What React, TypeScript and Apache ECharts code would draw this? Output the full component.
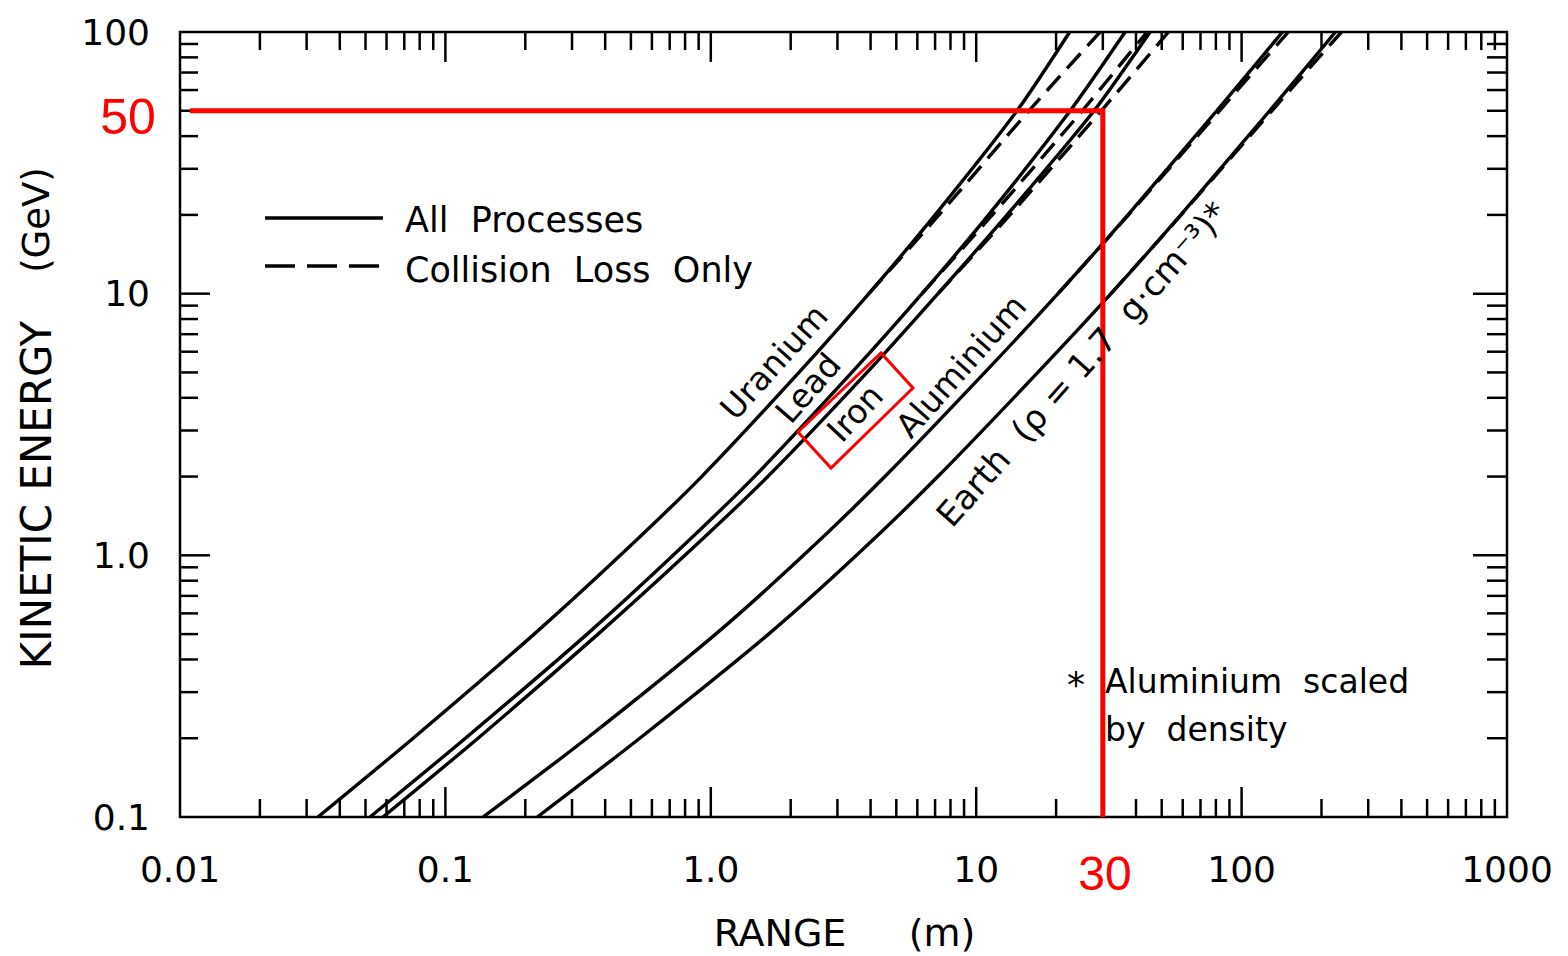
import React, { useEffect, useRef } from 'react';
import * as echarts from 'echarts';

// Kinetic energy (GeV) at which ranges were read
const energies = [0.1, 0.2, 0.5, 1, 2, 5, 10, 20, 50, 100];
// Range (m) — all processes
const uraniumRange = [0.0331, 0.0756, 0.216, 0.456, 0.924, 2.15, 3.94, 7.0, 14.25, 22.5];
const leadRange = [0.052, 0.119, 0.342, 0.721, 1.46, 3.4, 6.25, 11.13, 22.6, 36.4];
const ironRange = [0.0582, 0.1327, 0.376, 0.799, 1.64, 3.88, 7.18, 13.07, 27.8, 45.2];
const aluminiumRange = [0.1386, 0.3414, 1.043, 2.235, 4.53, 10.78, 20.33, 37.29, 80.6, 142.6];
const earthRange = [0.222, 0.54, 1.651, 3.54, 7.17, 17.07, 32.2, 59.0, 127.6, 225.7];

// Range (m) — collision loss only (high energies)
const collisionEnergies = [10, 20, 50, 100];
const uraniumCollision = [3.94, 7.24, 15.8, 29.3];
const leadCollision = [6.25, 11.5, 25.1, 44];
const ironCollision = [7.18, 13.4, 29.6, 53];
const aluminiumCollision = [20.33, 37.5, 82.5, 150];
const earthCollision = [32.2, 59.2, 130, 238];

const materialNames = ['Uranium', 'Lead', 'Iron', 'Aluminium', 'Earth'];

// Axes
const xMin = 0.01;
const xMax = 1000;
const yMin = 0.1;
const yMax = 100;
const xTickValues = [0.01, 0.1, 1, 10, 100, 1000];
const xTickLabels = ['0.01', '0.1', '1.0', '10', '100', '1000'];
const yTickValues = [0.1, 1, 10, 100];
const yTickLabels = ['0.1', '1.0', '10', '100'];
const minorMultipliers = [2, 3, 4, 5, 6, 7, 8, 9];

// Red annotation: 50 GeV -> 30 m
const markRange = 30;
const markEnergy = 50;
const markStartRange = 0.0109;

const FONT = '"DejaVu Sans", sans-serif';
const RED_FONT = '"Liberation Sans", Arial, sans-serif';

function labelFor(values: number[], labels: string[], v: number) {
  const e = Math.round(Math.log10(v));
  for (let i = 0; i < values.length; i++) {
    if (Math.round(Math.log10(values[i])) === e) return labels[i];
  }
  return '';
}

function txt(text: string, x: number, y: number, size: number, opts: any = {}) {
  const align = opts.align || 'center';
  return {
    type: 'text',
    x,
    y,
    rotation: opts.rotation || 0,
    z: 100,
    silent: true,
    style: {
      text,
      fill: opts.color || '#000',
      fontSize: size,
      fontFamily: opts.font || FONT,
      align,
      textAlign: align,
      verticalAlign: 'middle',
      textVerticalAlign: 'middle',
    },
  };
}

export default function App() {
  const ref = useRef<HTMLDivElement>(null);

  useEffect(() => {
    document.body.style.margin = '0';
    const chart = echarts.init(ref.current!, null, { renderer: 'svg' });

    const solidSets = [uraniumRange, leadRange, ironRange, aluminiumRange, earthRange];
    const collisionSets = [uraniumCollision, leadCollision, ironCollision, aluminiumCollision, earthCollision];

    // tick marks data: [x, y, axis(0=x,1=y), major]
    const tickData: number[][] = [];
    xTickValues.slice(0, -1).forEach((d, i) => {
      if (i > 0) tickData.push([d, yMin, 0, 1]);
      minorMultipliers.forEach((m) => tickData.push([d * m, yMin, 0, 0]));
    });
    yTickValues.slice(0, -1).forEach((d, i) => {
      if (i > 0) tickData.push([xMin, d, 1, 1]);
      minorMultipliers.forEach((m) => tickData.push([xMin, d * m, 1, 0]));
    });

    const tickStyle = { stroke: '#000', lineWidth: 2.5 };

    const option: any = {
      animation: false,
      backgroundColor: '#fff',
      grid: {
        left: 180,
        top: 32,
        width: 1327,
        height: 785,
        show: true,
        borderColor: '#000',
        borderWidth: 2.5,
        backgroundColor: 'transparent',
      },
      xAxis: {
        type: 'log',
        logBase: 10,
        min: xMin,
        max: xMax,
        splitNumber: 5,
        axisLine: { show: false },
        axisTick: { show: false },
        splitLine: { show: false },
        minorTick: { show: false },
        axisLabel: {
          margin: 34,
          fontSize: 36,
          fontFamily: FONT,
          color: '#000',
          formatter: (v: number) => labelFor(xTickValues, xTickLabels, v),
        },
      },
      yAxis: {
        type: 'log',
        logBase: 10,
        min: yMin,
        max: yMax,
        splitNumber: 3,
        axisLine: { show: false },
        axisTick: { show: false },
        splitLine: { show: false },
        minorTick: { show: false },
        axisLabel: {
          margin: 30,
          fontSize: 36,
          fontFamily: FONT,
          color: '#000',
          formatter: (v: number) => labelFor(yTickValues, yTickLabels, v),
        },
      },
      series: [
        ...solidSets.map((r, i) => ({
          type: 'line',
          name: materialNames[i],
          data: r.map((x, j) => [x, energies[j]]),
          smooth: 0.25,
          symbol: 'none',
          silent: true,
          clip: true,
          lineStyle: { color: '#000', width: 3.4 },
        })),
        ...collisionSets.map((r, i) => ({
          type: 'line',
          name: materialNames[i] + ' (collision)',
          data: r.map((x, j) => [x, collisionEnergies[j]]),
          smooth: 0.25,
          symbol: 'none',
          silent: true,
          clip: true,
          lineStyle: { color: '#000', width: 3.4, type: [20, 10] },
        })),
        {
          type: 'line',
          name: 'annotation',
          data: [
            [markStartRange, markEnergy],
            [markRange, markEnergy],
            [markRange, yMin],
          ],
          symbol: 'none',
          silent: true,
          clip: false,
          z: 5,
          lineStyle: { color: '#ff0000', width: 5, join: 'miter' },
        },
        {
          type: 'custom',
          name: 'ticks',
          clip: false,
          silent: true,
          data: tickData,
          renderItem: (params: any, api: any) => {
            const axis = api.value(2);
            const major = api.value(3);
            if (axis === 0) {
              const len = major ? 30 : 18;
              const b = api.coord([api.value(0), yMin]);
              const t = api.coord([api.value(0), yMax]);
              return {
                type: 'group',
                children: [
                  { type: 'line', shape: { x1: b[0], y1: b[1], x2: b[0], y2: b[1] - len }, style: tickStyle },
                  { type: 'line', shape: { x1: t[0], y1: t[1], x2: t[0], y2: t[1] + len }, style: tickStyle },
                ],
              };
            }
            const lenL = major ? 30 : 18;
            const lenR = major ? 34 : 20;
            const l = api.coord([xMin, api.value(1)]);
            const r = api.coord([xMax, api.value(1)]);
            return {
              type: 'group',
              children: [
                { type: 'line', shape: { x1: l[0], y1: l[1], x2: l[0] + lenL, y2: l[1] }, style: tickStyle },
                { type: 'line', shape: { x1: r[0], y1: r[1], x2: r[0] - lenR, y2: r[1] }, style: tickStyle },
              ],
            };
          },
        },
      ],
      graphic: [
        // axis titles
        txt('RANGE', 780, 933, 38),
        txt('(m)', 942, 933, 38),
        txt('KINETIC ENERGY', 36, 495, 42, { rotation: Math.PI / 2 }),
        txt('(GeV)', 36, 220, 37, { rotation: Math.PI / 2 }),
        // legend
        { type: 'line', silent: true, shape: { x1: 265, y1: 218, x2: 383, y2: 218 }, style: { stroke: '#000', lineWidth: 3.4 } },
        { type: 'line', silent: true, shape: { x1: 265, y1: 266, x2: 383, y2: 266 }, style: { stroke: '#000', lineWidth: 3.4, lineDash: [30, 12] } },
        txt('All  Processes', 405, 220, 35, { align: 'left' }),
        txt('Collision  Loss  Only', 405, 270, 35, { align: 'left' }),
        // curve labels
        txt('Uranium', 774, 362, 33, { rotation: (48 * Math.PI) / 180 }),
        txt('Lead', 808, 388, 33, { rotation: (49 * Math.PI) / 180 }),
        txt('Iron', 855, 413, 33, { rotation: (47 * Math.PI) / 180 }),
        txt('Aluminium', 961, 366, 33, { rotation: (48.5 * Math.PI) / 180 }),
        txt('Earth  (ρ = 1.7  g·cm⁻³)*', 1082, 364, 34, { rotation: (48.5 * Math.PI) / 180 }),
        // red box around Iron
        {
          type: 'polygon',
          silent: true,
          z: 100,
          shape: { points: [[798, 432], [881, 353], [913, 388], [831, 468]] },
          style: { fill: 'none', stroke: '#ff0000', lineWidth: 3 },
        },
        // footnote
        txt('*', 1076, 684, 36, { align: 'center' }),
        txt('Aluminium  scaled', 1105, 681, 33, { align: 'left' }),
        txt('by  density', 1105, 729, 33, { align: 'left' }),
        // red values
        txt('50', 128, 117, 50, { color: '#ff0000', font: RED_FONT }),
        txt('30', 1105, 873, 48, { color: '#ff0000', font: RED_FONT }),
      ],
    };

    chart.setOption(option);
    return () => chart.dispose();
  }, []);

  return <div ref={ref} style={{ width: 1568, height: 956 }} />;
}
